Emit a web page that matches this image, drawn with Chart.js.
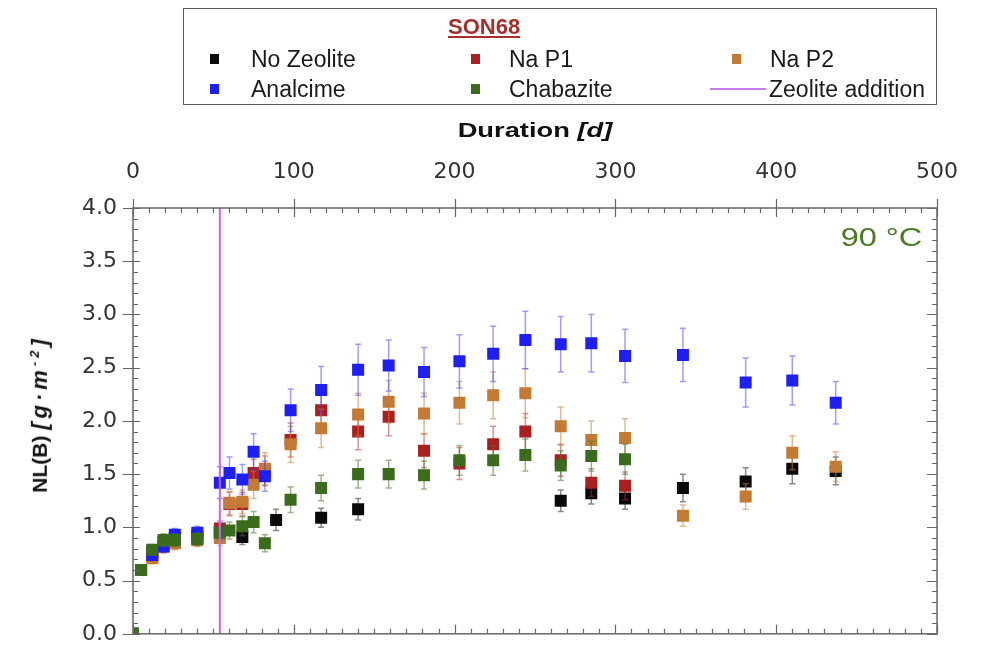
<!DOCTYPE html>
<html lang="en">
<head>
    <meta charset="UTF-8">
    <title>SON68 NL(B) vs Duration</title>
    <script src="https://cdn.jsdelivr.net/npm/chart.js"></script>
    <style>
        html, body { margin: 0; background: #fff; overflow: hidden; font-family: "Liberation Sans", Arial, sans-serif; }
        .wrap { position: relative; width: 981px; height: 645px; overflow: hidden; }
        canvas { position: absolute; left: 0; top: 0; }
        .legend { position: absolute; left: 183px; top: 8px; width: 752px; height: 95px; border: 1.5px solid #5a5a5a; color: #1a1a1a; font-size: 23px; }
        .legend .title { position: absolute; left: 264px; top: 5px; font-weight: bold; color: #a3302c; text-decoration: underline; font-size: 22px; }
        .legend .item { position: absolute; white-space: nowrap; line-height: 26px; }
        .legend .mark { position: absolute; width: 9px; height: 10px; }
        .legend .line { position: absolute; height: 2px; background: #c77cf0; }
        .xtitle { position: absolute; left: 133px; width: 804px; top: 118px; line-height: 24px; text-align: center; font-weight: bold; font-size: 21px; color: #111; transform: scaleX(1.3); }
        .ytitle { position: absolute; left: 40px; top: 414px; transform: translate(-50%, -50%) rotate(-90deg); white-space: nowrap; font-weight: bold; font-size: 21px; color: #111; }
        .ytitle i { letter-spacing: 4px; font-size: 22px; }
        .temp { position: absolute; right: 59px; top: 222px; font-size: 26px; color: #4a7a25; transform: scaleX(1.25); transform-origin: right center; }
    </style>
</head>
<body>
<div class="wrap">
    <canvas id="chart" width="981" height="663"></canvas>
    <div class="legend" id="legend"><div class="title">SON68</div></div>
    <div class="xtitle">Duration <i>[d]</i></div>
    <div class="ytitle">NL(B) <i>[g·m<sup style="font-size:13px">-2</sup>]</i></div>
    <div class="temp">90 °C</div>
</div>
<script>
// sampling days (shared by all series)
const days = [0, 5, 12, 19, 26, 40, 54, 60, 68, 75, 82, 89, 98, 117, 140, 159, 181, 203, 224, 244, 266, 285, 306, 342, 381, 410, 437];

const noZeolite = [0, 0.6, 0.77, 0.86, 0.9, 0.92, 0.95, null, 0.91, null, null, 1.07, null, 1.09, 1.17, null, null, null, null, null, 1.25, 1.32, 1.27, 1.37, 1.43, 1.55, 1.53];
const naP1      = [0, 0.6, 0.73, 0.82, 0.86, 0.9, 0.99, 1.22, 1.22, 1.51, 1.53, null, 1.82, 2.1, 1.9, 2.04, 1.72, 1.6, 1.78, 1.9, 1.63, 1.42, 1.39, null, null, null, null];
const naP2      = [0, 0.6, 0.71, 0.83, 0.85, 0.88, 0.9, 1.23, 1.24, 1.4, 1.55, null, 1.78, 1.93, 2.06, 2.18, 2.07, 2.17, 2.24, 2.26, 1.95, 1.82, 1.84, 1.11, 1.29, 1.7, 1.57];
const analcime  = [0, 0.6, 0.74, 0.82, 0.93, 0.95, 1.42, 1.51, 1.45, 1.71, 1.48, null, 2.1, 2.29, 2.48, 2.52, 2.46, 2.56, 2.63, 2.76, 2.72, 2.73, 2.61, 2.62, 2.36, 2.38, 2.17];
const chabazite = [0, 0.6, 0.79, 0.88, 0.88, 0.89, 0.95, 0.97, 1.01, 1.05, 0.85, null, 1.26, 1.37, 1.5, 1.5, 1.49, 1.63, 1.63, 1.68, 1.58, 1.67, 1.64, null, null, null, null];

// error bars (+/-)
const noZeoliteErr = [0, 0.03, 0.05, 0.06, 0.06, 0.06, 0.06, null, 0.07, null, null, 0.1, null, 0.09, 0.1, null, null, null, null, null, 0.1, 0.1, 0.1, 0.13, 0.13, 0.14, 0.13];
const naP1Err      = [0, 0.03, 0.05, 0.06, 0.06, 0.06, 0.07, 0.11, 0.11, 0.13, 0.14, null, 0.16, 0.17, 0.17, 0.18, 0.16, 0.15, 0.17, 0.17, 0.15, 0.13, 0.13, null, null, null, null];
const naP2Err      = [0, 0.03, 0.05, 0.06, 0.06, 0.06, 0.07, 0.11, 0.11, 0.13, 0.15, null, 0.17, 0.18, 0.2, 0.2, 0.19, 0.2, 0.22, 0.23, 0.18, 0.18, 0.18, 0.1, 0.12, 0.16, 0.14];
const analcimeErr  = [0, 0.03, 0.05, 0.05, 0.06, 0.06, 0.15, 0.15, 0.14, 0.17, 0.14, null, 0.2, 0.22, 0.24, 0.24, 0.23, 0.25, 0.26, 0.27, 0.26, 0.27, 0.25, 0.25, 0.23, 0.23, 0.2];
const chabaziteErr = [0, 0.03, 0.05, 0.06, 0.06, 0.06, 0.07, 0.08, 0.09, 0.1, 0.08, null, 0.12, 0.12, 0.13, 0.13, 0.13, 0.14, 0.14, 0.15, 0.14, 0.14, 0.14, null, null, null, null];

const zeoliteAdditionDay = 54;
const xTicks = [0, 100, 200, 300, 400, 500];
const yTicks = [0, 0.5, 1, 1.5, 2, 2.5, 3, 3.5, 4];

// order: lower is drawn on top
const series = [
    { name: "No Zeolite", values: noZeolite, err: noZeoliteErr, color: "#0a0a0a", errColor: "rgba(40,40,40,0.55)", order: 5 },
    { name: "Na P1", values: naP1, err: naP1Err, color: "#aa1f1f", errColor: "rgba(180,40,40,0.5)", order: 4 },
    { name: "Na P2", values: naP2, err: naP2Err, color: "#c27a34", errColor: "rgba(200,130,60,0.55)", order: 3 },
    { name: "Analcime", values: analcime, err: analcimeErr, color: "#1e1ef5", errColor: "rgba(60,60,255,0.5)", order: 2 },
    { name: "Chabazite", values: chabazite, err: chabaziteErr, color: "#3b6b1d", errColor: "rgba(70,120,40,0.55)", order: 1 }
];

// legend (html) - [marker left, text left, row top]
const legend = document.getElementById("legend");
const legendPos = [[26, 67, 37], [287, 325, 37], [548, 586, 37], [26, 67, 67], [287, 325, 67]];
series.forEach(function (s, i) {
    const p = legendPos[i];
    const m = document.createElement("div");
    m.className = "mark";
    m.style.left = p[0] + "px"; m.style.top = (p[2] + 8) + "px"; m.style.background = s.color;
    legend.appendChild(m);
    const t = document.createElement("div");
    t.className = "item";
    t.style.left = p[1] + "px"; t.style.top = p[2] + "px";
    t.textContent = s.name;
    legend.appendChild(t);
});
const ln = document.createElement("div");
ln.className = "line"; ln.style.left = "526px"; ln.style.width = "56px"; ln.style.top = "79px";
legend.appendChild(ln);
const lt = document.createElement("div");
lt.className = "item"; lt.style.left = "585px"; lt.style.top = "67px"; lt.textContent = "Zeolite addition";
legend.appendChild(lt);

// error bars drawn under each dataset's points
const errorBars = {
    id: "errorBars",
    beforeDatasetDraw(chart, args) {
        const ds = chart.data.datasets[args.index];
        if (!ds.err) return;
        const ctx = chart.ctx, xs = chart.scales.x, ys = chart.scales.y;
        ctx.save();
        ctx.strokeStyle = ds.errColor;
        ctx.lineWidth = 1.5;
        ds.data.forEach(function (pt, i) {
            const e = ds.err[i];
            if (pt.y === null || !e) return;
            const px = xs.getPixelForValue(pt.x);
            const top = ys.getPixelForValue(pt.y + e), bot = ys.getPixelForValue(pt.y - e);
            ctx.beginPath();
            ctx.moveTo(px, top); ctx.lineTo(px, bot);
            ctx.moveTo(px - 3, top); ctx.lineTo(px + 3, top);
            ctx.moveTo(px - 3, bot); ctx.lineTo(px + 3, bot);
            ctx.stroke();
        });
        ctx.restore();
    }
};

// frame with major/minor ticks
const frame = {
    id: "frame",
    afterDraw(chart) {
        const ctx = chart.ctx, a = chart.chartArea, xs = chart.scales.x, ys = chart.scales.y;
        ctx.save();
        ctx.strokeStyle = "#666";
        ctx.lineWidth = 1.5;
        ctx.strokeRect(a.left, a.top, a.right - a.left, a.bottom - a.top);
        ctx.lineWidth = 1.2;
        ctx.beginPath();
        for (let d = 0; d <= 500; d += 10) {
            const px = Math.round(xs.getPixelForValue(d)) + 0.5;
            const major = d % 100 === 0;
            ctx.moveTo(px, a.top - (major ? 9 : 0)); ctx.lineTo(px, a.top + (major ? 9 : 5));
            ctx.moveTo(px, a.bottom); ctx.lineTo(px, a.bottom - (major ? 9 : 5));
        }
        for (let k = 0; k <= 40; k++) {
            const py = Math.round(ys.getPixelForValue(k / 10)) + 0.5;
            const major = k % 5 === 0;
            ctx.moveTo(a.left - (major ? 10 : 0), py); ctx.lineTo(a.left + (major ? 7 : 5), py);
            ctx.moveTo(a.right, py); ctx.lineTo(a.right - (major ? 10 : 5), py);
        }
        ctx.stroke();
        ctx.restore();
    }
};

const datasets = series.map(function (s) {
    return {
        label: s.name,
        data: days.map(function (d, i) { return { x: d, y: s.values[i] }; }),
        err: s.err,
        errColor: s.errColor,
        order: s.order,
        showLine: false,
        pointStyle: "rect",
        pointRadius: 8.5,
        pointHoverRadius: 8.5,
        backgroundColor: s.color,
        borderColor: s.color,
        borderWidth: 0
    };
});
datasets.push({
    label: "Zeolite addition",
    type: "line",
    order: 0,
    data: [{ x: zeoliteAdditionDay, y: 0 }, { x: zeoliteAdditionDay, y: 4 }],
    borderColor: "#c266f5",
    borderWidth: 2,
    pointRadius: 0,
    showLine: true
});

const tickFont = { family: "DejaVu Sans", size: 22 };

new Chart(document.getElementById("chart").getContext("2d"), {
    type: "scatter",
    data: { datasets: datasets },
    options: {
        responsive: false,
        animation: false,
        layout: { padding: { left: 0, top: 0, right: 40, bottom: -4 } },
        plugins: { legend: { display: false }, tooltip: { enabled: false } },
        scales: {
            x: {
                type: "linear", position: "top", min: 0, max: 500,
                afterBuildTicks: function (s) { s.ticks = xTicks.map(function (v) { return { value: v }; }); },
                afterFit: function (s) { s.height = 208; },
                grid: { display: false, drawTicks: false },
                border: { display: false },
                ticks: { padding: 23, color: "#333", font: tickFont }
            },
            y: {
                type: "linear", min: 0, max: 4,
                afterBuildTicks: function (s) { s.ticks = yTicks.map(function (v) { return { value: v }; }); },
                afterFit: function (s) { s.width = 133; },
                grid: { display: false, drawTicks: false },
                border: { display: false },
                ticks: { padding: 16, color: "#333", font: tickFont,
                    callback: function (v) { return Number(v).toFixed(1); } }
            }
        }
    },
    plugins: [errorBars, frame]
});
</script>
</body>
</html>
